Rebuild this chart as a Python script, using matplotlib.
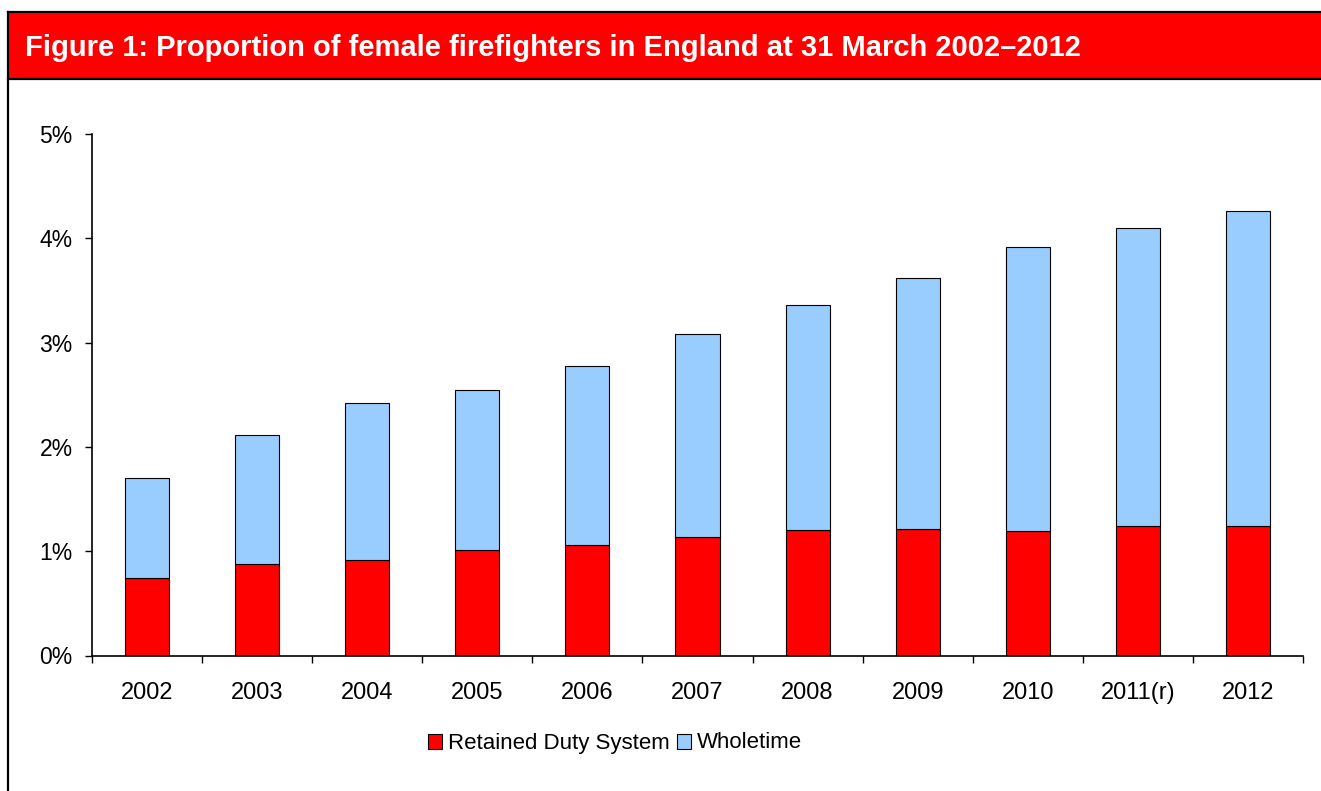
import matplotlib
matplotlib.use("Agg")
import matplotlib.pyplot as plt
from matplotlib.patches import Rectangle
from matplotlib.lines import Line2D
import numpy as np

plt.rcParams['font.family'] = ['Liberation Sans', 'DejaVu Sans']

years = ['2002', '2003', '2004', '2005', '2006', '2007', '2008', '2009', '2010', '2011(r)', '2012']
retained = [0.74, 0.88, 0.92, 1.01, 1.06, 1.14, 1.20, 1.21, 1.19, 1.24, 1.24]
total = [1.70, 2.11, 2.42, 2.55, 2.78, 3.08, 3.36, 3.62, 3.92, 4.10, 4.26]
wholetime = [t - r for t, r in zip(total, retained)]

title = 'Figure 1: Proportion of female firefighters in England at 31 March 2002\u20132012'
series_names = ['Retained Duty System', 'Wholetime']
red = '#FF0000'
blue = '#99CCFF'

W, H = 1321, 791
fig = plt.figure(figsize=(W / 100, H / 100), dpi=100)

def fx(px):
    return px / W

def fy(py):
    return 1 - py / H

# banner
fig.patches.append(Rectangle((fx(8), fy(79)), fx(1330) - fx(8), fy(13) - fy(79),
                             transform=fig.transFigure, facecolor=red, edgecolor='none', zorder=0))
# border lines
fig.lines.append(Line2D([fx(8), fx(8)], [fy(12), fy(800)], transform=fig.transFigure, color='black', lw=1.6))
fig.lines.append(Line2D([fx(8), fx(1330)], [fy(12), fy(12)], transform=fig.transFigure, color='black', lw=1.6))
fig.lines.append(Line2D([fx(8), fx(1330)], [fy(79), fy(79)], transform=fig.transFigure, color='black', lw=1.6))

fig.text(fx(25), fy(48), title, color='white', fontsize=21, fontweight='bold', ha='left', va='center')

ax = fig.add_axes([fx(92), fy(655.5), fx(1303) - fx(92), fy(134) - fy(655.5)])
x = np.arange(len(years))
b1 = ax.bar(x, retained, width=0.4, color=red, edgecolor='black', linewidth=0.8, label=series_names[0])
b2 = ax.bar(x, wholetime, width=0.4, bottom=retained, color=blue, edgecolor='black', linewidth=0.8, label=series_names[1])

ax.set_xlim(-0.5, len(years) - 0.5)
ax.set_ylim(0, 5)
ax.set_yticks(np.arange(0, 6, 1))
ax.set_yticklabels([f'{v}%' for v in range(6)])
ax.set_xticks(x)
ax.set_xticklabels(years, va='baseline')
ax.set_xticks(np.arange(-0.5, len(years), 1), minor=True)
ax.tick_params(axis='x', which='major', length=0, pad=31, labelsize=17)
ax.tick_params(axis='x', which='minor', length=5, width=1, direction='out')
ax.tick_params(axis='y', which='major', length=5, width=1, direction='out', pad=9, labelsize=16.5)
for s in ['top', 'right']:
    ax.spines[s].set_visible(False)
for s in ['left', 'bottom']:
    ax.spines[s].set_linewidth(1.2)

# legend (manual, baseline-aligned)
legend_items = [(series_names[0], red, 428), (series_names[1], blue, 677)]
for name, col, px in legend_items:
    fig.patches.append(Rectangle((fx(px), fy(748.5)), fx(14), 14.5 / H, transform=fig.transFigure,
                                 facecolor=col, edgecolor='black', linewidth=0.8))
    fig.text(fx(px + 20), fy(748.5), name, fontsize=16, ha='left', va='baseline')

fig.savefig('out.png', dpi=100)
